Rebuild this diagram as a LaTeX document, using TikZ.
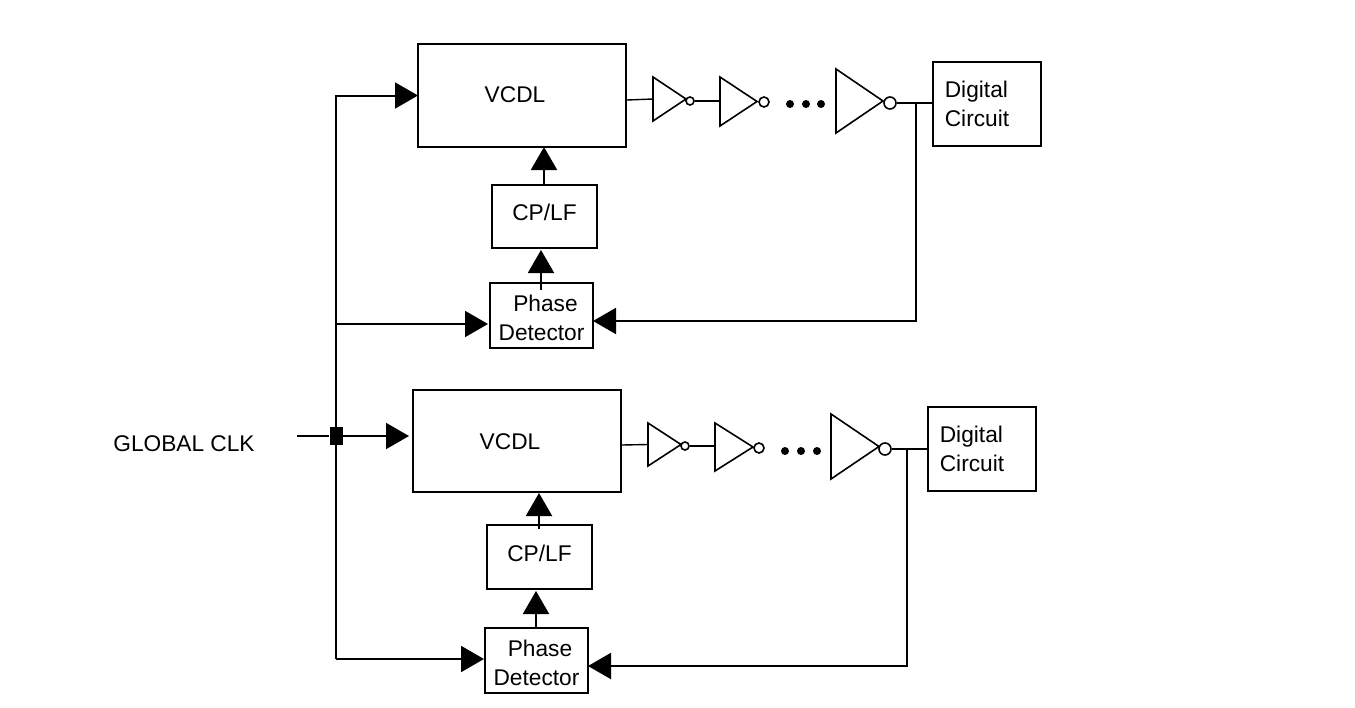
\documentclass[tikz,border=0pt]{standalone}
\usepackage{fontspec}
\setmainfont{Liberation Sans}
\usetikzlibrary{arrows.meta,shapes.geometric}
\tikzset{
  x=1pt,y=-1pt,
  box/.style={draw=black,line width=2pt,inner sep=0pt,fill=white},
  lbl/.style={font=\fontsize{22.7}{29}\selectfont,align=left,text=black,inner sep=0pt},
  wire/.style={draw=black,line width=2pt},
  thinwire/.style={draw=black,line width=1.4pt},
  big/.style={-{Triangle[length=23pt,width=26pt]},shorten >=-1pt},
  bub/.style={draw=black,line width=1.6pt,circle,inner sep=0pt,fill=white},
  dotc/.style={fill=black,circle,inner sep=0pt,minimum size=8pt},
  junction/.style={fill=black,inner sep=0pt,minimum width=13pt,minimum height=18pt},
}
% #1 name prefix, #2 x of left, #3 top, #4 bottom, #5 tip x
\newcommand{\invtri}[5]{%
  \coordinate (#1a) at (#2,#3);
  \coordinate (#1b) at (#2,#4);
  \coordinate (#1c) at (#5,{(#3+#4)/2});
  \coordinate (#1in) at (#2,{(#3+#4)/2});
  \draw[line width=1.6pt,line join=miter,fill=white] (#1a) -- (#1c) -- (#1b) -- cycle;}
\begin{document}
\begin{tikzpicture}
\useasboundingbox[fill=white] (0,0) rectangle (1355,707);

% ---- upper block
\node[box,minimum width=208pt,minimum height=103pt,label={[lbl,xshift=-7pt,yshift=1pt]center:VCDL}] (v1) at (522,95.5) {};
\node[box,minimum width=105pt,minimum height=63pt,label={[lbl,xshift=0pt,yshift=4pt]center:CP/LF}] (c1) at (544.5,216.5) {};
\node[box,minimum width=103pt,minimum height=65pt,label={[lbl,xshift=0pt,yshift=-2pt,align=center]center:\hspace*{8pt}Phase\\Detector}] (p1) at (541.5,315.5) {};
\node[box,minimum width=108pt,minimum height=84pt,label={[lbl,xshift=-10pt,yshift=0pt]center:Digital\\Circuit}] (d1) at (987,104) {};

\invtri{a1}{653}{77}{121}{686}
\invtri{a2}{720}{77}{126}{757}
\invtri{a3}{836}{69}{133}{883}
\node[bub,minimum size=8pt] (b1) at (690,101) {};
\node[bub,minimum size=10pt] (b2) at (764,102) {};
\node[bub,minimum size=12pt] (b3) at (890,103) {};
\node[dotc] (e1) at (790,104) {};
\node[dotc] (e2) at (806,104) {};
\node[dotc] (e3) at (821,104) {};

% ---- lower block
\node[box,minimum width=208pt,minimum height=102pt,label={[lbl,xshift=-7pt,yshift=-1pt]center:VCDL}] (v2) at (517,441) {};
\node[box,minimum width=105pt,minimum height=64pt,label={[lbl,xshift=0pt,yshift=4pt]center:CP/LF}] (c2) at (539.5,557) {};
\node[box,minimum width=103pt,minimum height=65pt,label={[lbl,xshift=0pt,yshift=-2pt,align=center]center:\hspace*{7pt}Phase\\Detector}] (p2) at (536.5,660.5) {};
\node[box,minimum width=108pt,minimum height=84pt,label={[lbl,xshift=-10pt,yshift=0pt]center:Digital\\Circuit}] (d2) at (982,449) {};

\invtri{f1}{648}{423}{466}{681}
\invtri{f2}{715}{423}{471}{753}
\invtri{f3}{831}{414}{479}{879}
\node[bub,minimum size=8pt] (g1) at (685,446) {};
\node[bub,minimum size=10pt] (g2) at (759,448) {};
\node[bub,minimum size=12pt] (g3) at (885,449) {};
\node[dotc] (h1) at (785,451) {};
\node[dotc] (h2) at (801,451) {};
\node[dotc] (h3) at (817,451) {};

% ---- clock
\node[lbl] (clk) at (184,444) {GLOBAL CLK};
\coordinate (clkin) at (297,436);
\node[junction] (j) at (336,436) {};

% ---- connectors: clock distribution
\draw[wire] (clkin) -- (j);
\draw[wire,big,shorten >=3pt] (j) -- (v2.west |- j);
\draw[wire,big] (j.north) |- (v1.west);
\draw[wire] (j.south) |- (336,659) coordinate (bl);
\draw[wire,big,shorten >=0pt] (bl) -- (p2.west |- bl);
\coordinate (tl) at (336,324);
\draw[wire,big,shorten >=1pt] (tl) -- (p1.west |- tl);

% ---- connectors: upper
\draw[thinwire] (v1.east |- 0,100) -- (a1in);
\draw[wire] (b1) -- (a2in |- b1);
\draw[wire] (b3) -- (d1.west |- b3);
\coordinate (t1) at (916,103);
\draw[wire,big] (t1) |- (p1.east |- 0,321);
\draw[wire,big] (544,185) -- (544,148);
\draw[wire,big] (541,290) -- (541,251);

% ---- connectors: lower
\draw[thinwire] (v2.east |- 0,445) -- (f1in);
\draw[wire] (g1) -- (f2in |- g1);
\draw[wire] (g3) -- (d2.west |- g3);
\coordinate (t2) at (907,449);
\draw[wire,big] (t2) |- (p2.east |- 0,666);
\draw[wire,big] (539,529) -- (539,494);
\draw[wire,big] (536,628) -- (536,592);
\end{tikzpicture}
\end{document}
